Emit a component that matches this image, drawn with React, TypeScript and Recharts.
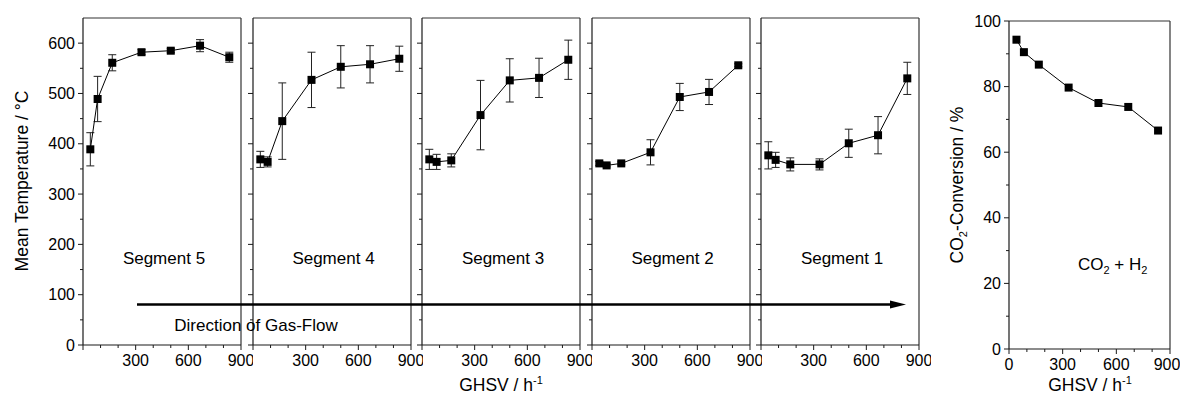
import React from 'react';
import { LineChart, Line, XAxis, YAxis, ErrorBar, ReferenceLine } from 'recharts';

// ---------- data ----------
const ghsv = [41.7, 83.3, 166.7, 333.3, 500, 666.7, 833.3];

const segmentNames = ['Segment 5', 'Segment 4', 'Segment 3', 'Segment 2', 'Segment 1'];

const seg5Temp = [389, 489, 561, 582, 585, 595, 572];
const seg5Err = [33, 45, 16, 5, 4, 12, 10];
const seg4Temp = [369, 364, 445, 527, 553, 558, 569];
const seg4Err = [16, 10, 76, 55, 42, 37, 25];
const seg3Temp = [369, 364, 367, 457, 526, 531, 567];
const seg3Err = [20, 15, 13, 69, 43, 39, 39];
const seg2Temp = [361, 357, 361, 383, 493, 503, 556];
const seg2Err = [4, 3, 3, 25, 27, 25, 3];
const seg1Temp = [377, 368, 359, 359, 401, 417, 530];
const seg1Err = [27, 15, 13, 11, 28, 37, 32];

const conversion = [94.3, 90.5, 86.7, 79.7, 75.0, 73.8, 66.6];

const xTicks = [0, 100, 200, 300, 400, 500, 600, 700, 800, 900];
const xLabelsPanels = [300, 600, 900];
const xLabelsRight = [0, 300, 600, 900];
const tempTicks = [0, 50, 100, 150, 200, 250, 300, 350, 400, 450, 500, 550, 600];
const tempLabels = [0, 100, 200, 300, 400, 500, 600];
const convTicks = [0, 10, 20, 30, 40, 50, 60, 70, 80, 90, 100];
const convLabels = [0, 20, 40, 60, 80, 100];

const segTemps = [seg5Temp, seg4Temp, seg3Temp, seg2Temp, seg1Temp];
const segErrs = [seg5Err, seg4Err, seg3Err, seg2Err, seg1Err];

// ---------- layout ----------
const FONT = '"Liberation Sans", Arial, sans-serif';
const AX = '#1a1a1a';
const FRAME = '#333';
const TICK_FS = 16;
const TITLE_FS = 17.5;
const PANEL_LEFT0 = 83;
const PANEL_STEP = 169.5;
const PANEL_W = 158;
const PLOT_TOP = 18;
const PLOT_H = 327;
const YAXIS_W = 40;
const XAXIS_H = 40;
const RIGHT_M = 12;

const R_LEFT = 1009;
const R_W = 161;
const R_TOP = 21;
const R_H = 328;

const makeBottomTick = (labels: number[], lastShift = 0) => (p: any) => {
  const { x, y, payload } = p;
  const v = payload.value;
  const major = v % 300 === 0;
  return (
    <g>
      <line x1={x} x2={x} y1={y} y2={y + (major ? 5 : 3)} stroke={AX} strokeWidth={1} />
      {labels.includes(v) && (
        <text
          x={x + (v === 900 ? lastShift : 0)}
          y={y + 21}
          textAnchor="middle"
          fontSize={TICK_FS}
          fill="#000"
          fontFamily={FONT}
        >
          {v}
        </text>
      )}
    </g>
  );
};

const makeLeftTick = (labels: number[], majorStep: number) => (p: any) => {
  const { x, y, payload } = p;
  const v = payload.value;
  const major = v % majorStep === 0;
  return (
    <g>
      <line x1={x} x2={x - (major ? 5 : 3)} y1={y} y2={y} stroke={AX} strokeWidth={1} />
      {labels.includes(v) && (
        <text x={x - 8} y={y + 5.5} textAnchor="end" fontSize={TICK_FS} fill="#000" fontFamily={FONT}>
          {v}
        </text>
      )}
    </g>
  );
};

const Square = (props: any) => {
  const { cx, cy, index } = props;
  if (cx == null || cy == null) return <g key={index} />;
  return <rect key={index} x={cx - 4} y={cy - 4} width={8} height={8} fill="#000" />;
};

function Panel({ idx }: { idx: number }) {
  const data = ghsv.map((g, i) => ({ x: g, y: segTemps[idx][i], e: segErrs[idx][i] }));
  const plotLeft = PANEL_LEFT0 + PANEL_STEP * idx;
  const w = YAXIS_W + PANEL_W + RIGHT_M;
  const h = PLOT_TOP + PLOT_H + XAXIS_H;
  return (
    <div style={{ position: 'absolute', left: plotLeft - YAXIS_W, top: 0 }}>
      <LineChart width={w} height={h} data={data} margin={{ top: PLOT_TOP, right: RIGHT_M, bottom: 0, left: 0 }}>
        <XAxis
          dataKey="x"
          type="number"
          domain={[0, 900]}
          ticks={xTicks}
          interval={0}
          height={XAXIS_H}
          tickSize={0}
          tickMargin={0}
          tickLine={false}
          axisLine={{ stroke: AX, strokeWidth: 1.2 }}
          tick={makeBottomTick(xLabelsPanels)}
        />
        <YAxis
          type="number"
          domain={[0, 650]}
          ticks={tempTicks}
          interval={0}
          width={YAXIS_W}
          tickSize={0}
          tickMargin={0}
          tickLine={false}
          axisLine={{ stroke: AX, strokeWidth: 1.2 }}
          tick={makeLeftTick(idx === 0 ? tempLabels : [], 100)}
        />
        <ReferenceLine y={650} stroke={FRAME} strokeWidth={1.2} />
        <ReferenceLine x={900} stroke={FRAME} strokeWidth={1.2} />
        <Line
          dataKey="y"
          stroke="#000"
          strokeWidth={1}
          dot={Square}
          activeDot={false}
          isAnimationActive={false}
        >
          <ErrorBar dataKey="e" direction="y" width={4} stroke="#222" strokeWidth={1} />
        </Line>
      </LineChart>
    </div>
  );
}

function ConversionPanel() {
  const data = ghsv.map((g, i) => ({ x: g, y: conversion[i] }));
  const w = YAXIS_W + R_W + 10;
  const h = R_TOP + R_H + XAXIS_H;
  return (
    <div style={{ position: 'absolute', left: R_LEFT - YAXIS_W, top: 0 }}>
      <LineChart width={w} height={h} data={data} margin={{ top: R_TOP, right: 10, bottom: 0, left: 0 }}>
        <XAxis
          dataKey="x"
          type="number"
          domain={[0, 900]}
          ticks={xTicks}
          interval={0}
          height={XAXIS_H}
          tickSize={0}
          tickMargin={0}
          tickLine={false}
          axisLine={{ stroke: AX, strokeWidth: 1.2 }}
          tick={makeBottomTick(xLabelsRight, -3)}
        />
        <YAxis
          type="number"
          domain={[0, 100]}
          ticks={convTicks}
          interval={0}
          width={YAXIS_W}
          tickSize={0}
          tickMargin={0}
          tickLine={false}
          axisLine={{ stroke: AX, strokeWidth: 1.2 }}
          tick={makeLeftTick(convLabels, 20)}
        />
        <ReferenceLine y={100} stroke={FRAME} strokeWidth={1.2} />
        <ReferenceLine x={900} stroke={FRAME} strokeWidth={1.2} />
        <Line
          dataKey="y"
          stroke="#000"
          strokeWidth={1}
          dot={Square}
          activeDot={false}
          isAnimationActive={false}
        />
      </LineChart>
    </div>
  );
}

function Overlay() {
  const t = { fontFamily: FONT, fill: '#000' } as const;
  return (
    <svg
      width={1181}
      height={407}
      style={{ position: 'absolute', left: 0, top: 0, pointerEvents: 'none' }}
    >
      {segmentNames.map((s, i) => (
        <text key={s} x={PANEL_LEFT0 + PANEL_STEP * i + PANEL_W / 2 + 2} y={264} textAnchor="middle" fontSize={17} {...t}>
          {s}
        </text>
      ))}
      <line x1={137} y1={304.5} x2={893} y2={304.5} stroke="#000" strokeWidth={2.5} />
      <polygon points="890,300.5 906,304.5 890,308.5" fill="#000" />
      <text x={256} y={331} textAnchor="middle" fontSize={17} {...t}>
        Direction of Gas-Flow
      </text>
      <text transform="rotate(-90)" x={-181} y={28} textAnchor="middle" fontSize={TITLE_FS} {...t}>
        Mean Temperature / °C
      </text>
      <text x={501} y={391} textAnchor="middle" fontSize={TITLE_FS} {...t}>
        GHSV / h<tspan dy={-7} fontSize={11}>-1</tspan>
      </text>
      <text transform="rotate(-90)" x={-185} y={963} textAnchor="middle" fontSize={TITLE_FS} {...t}>
        CO<tspan dy={4} fontSize={11}>2</tspan>
        <tspan dy={-4}>-Conversion / %</tspan>
      </text>
      <text x={1090} y={391} textAnchor="middle" fontSize={TITLE_FS} {...t}>
        GHSV / h<tspan dy={-7} fontSize={11}>-1</tspan>
      </text>
      <text x={1078} y={270} fontSize={17} {...t}>
        CO<tspan dy={4} fontSize={11}>2</tspan>
        <tspan dy={-4}> + H</tspan>
        <tspan dy={4} fontSize={11}>2</tspan>
      </text>
    </svg>
  );
}

export default function App() {
  return (
    <div
      style={{
        position: 'absolute',
        left: 0,
        top: 0,
        width: 1181,
        height: 407,
        overflow: 'hidden',
        background: '#fff',
      }}
    >
      {[0, 1, 2, 3, 4].map((i) => (
        <Panel key={i} idx={i} />
      ))}
      <ConversionPanel />
      <Overlay />
    </div>
  );
}
